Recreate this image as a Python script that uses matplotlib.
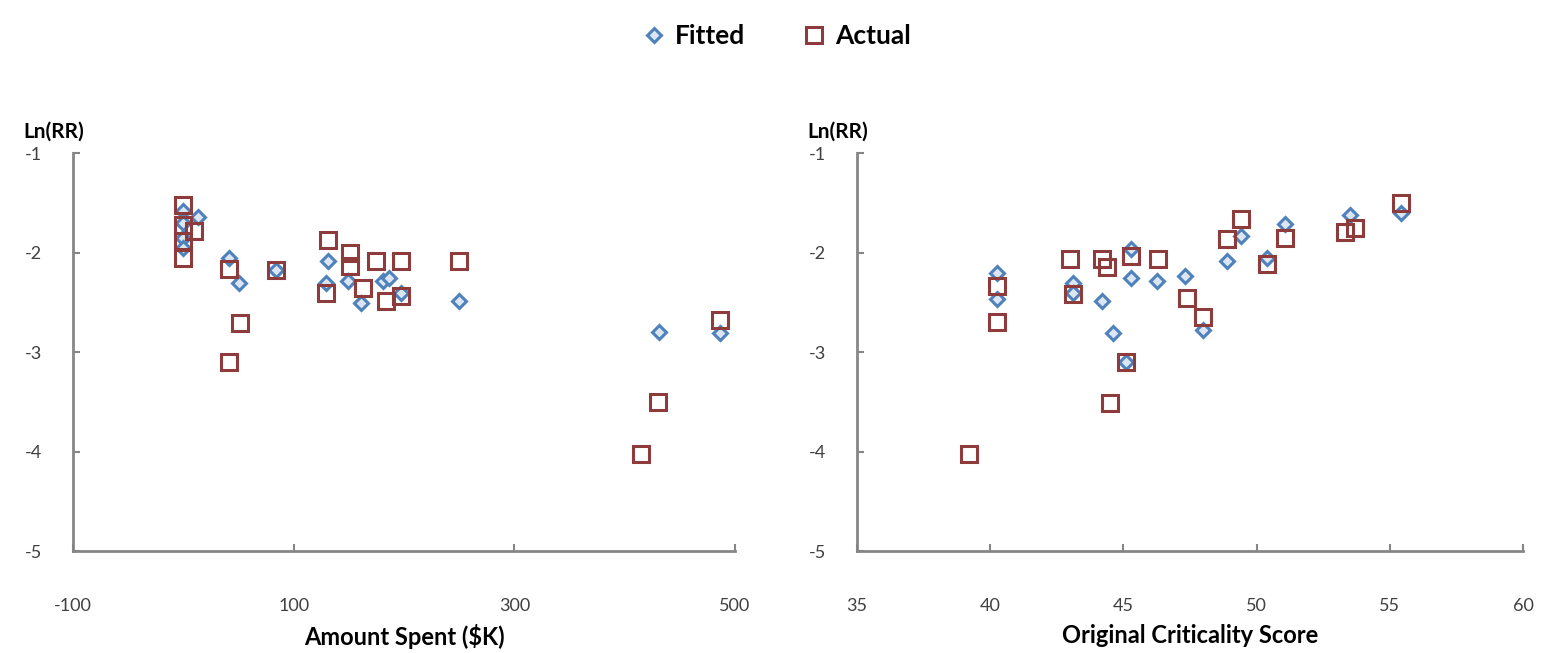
# Ln(RR) vs amount spent and criticality score - fitted vs actual

import matplotlib
matplotlib.use("Agg")
import matplotlib.pyplot as plt

plt.rcParams['font.family'] = ['Lato', 'DejaVu Sans']
plt.rcParams['axes.unicode_minus'] = False

# left panel: amount spent ($K)
spent_actual_x = [0, 0, 0, 0, 10, 41, 51, 41, 84, 131, 129, 151, 151, 163, 175, 197, 184, 197, 250, 486, 430, 415]
spent_actual_y = [-1.52, -1.72, -1.88, -2.05, -1.78, -2.16, -2.71, -3.10, -2.17, -1.87, -2.40, -2.00, -2.13,
                  -2.35, -2.08, -2.08, -2.48, -2.43, -2.08, -2.68, -3.50, -4.02]
spent_fitted_x = [0, 0, 0, 0, 13, 41, 50, 84, 131, 129, 149, 161, 181, 186, 197, 250, 431, 486]
spent_fitted_y = [-1.58, -1.70, -1.85, -1.95, -1.64, -2.05, -2.30, -2.17, -2.08, -2.30, -2.28, -2.50,
                  -2.28, -2.25, -2.40, -2.48, -2.80, -2.81]

# right panel: original criticality score
score_actual_x = [39.2, 40.25, 40.25, 43.0, 43.1, 44.2, 44.4, 45.1, 44.5, 45.3, 46.3, 47.4, 48.0, 48.9,
                  49.4, 50.4, 51.05, 53.3, 53.7, 55.4]
score_actual_y = [-4.02, -2.33, -2.70, -2.06, -2.41, -2.06, -2.14, -3.10, -3.51, -2.03, -2.06, -2.45,
                  -2.65, -1.86, -1.66, -2.11, -1.85, -1.79, -1.75, -1.50]
score_fitted_x = [40.25, 40.25, 43.1, 43.1, 44.2, 44.6, 45.1, 45.3, 45.3, 46.25, 47.3, 48.0, 48.9, 49.4,
                  50.4, 51.05, 53.5, 55.4]
score_fitted_y = [-2.20, -2.46, -2.30, -2.40, -2.48, -2.81, -3.10, -1.96, -2.25, -2.28, -2.23, -2.78,
                  -2.08, -1.83, -2.05, -1.71, -1.62, -1.60]

fitted_color = '#4F81BD'
actual_color = '#8E3B3B'
axis_color = '#868686'

fig = plt.figure(figsize=(15.54, 6.53), dpi=100)
ax1 = fig.add_axes([0.047, 0.156, 0.426, 0.609])
ax2 = fig.add_axes([0.5515, 0.156, 0.4286, 0.609])

panels = [
    (ax1, spent_fitted_x, spent_fitted_y, spent_actual_x, spent_actual_y,
     (-100, 500), [-100, 100, 300, 500], "Amount Spent ($K)"),
    (ax2, score_fitted_x, score_fitted_y, score_actual_x, score_actual_y,
     (35, 60), [35, 40, 45, 50, 55, 60], "Original Criticality Score"),
]

for ax, fx, fy, axx, ay, xlim, xticks, xlabel in panels:
    ax.plot(fx, fy, linestyle='none', marker='D', markersize=7, markerfacecolor='#DCE6F2',
            markeredgecolor=fitted_color, markeredgewidth=2.2, label='Fitted')
    ax.plot(axx, ay, linestyle='none', marker='s', markersize=12, markerfacecolor='none',
            markeredgecolor=actual_color, markeredgewidth=2.2, label='Actual')
    ax.set_xlim(*xlim)
    ax.set_ylim(-5, -1)
    ax.set_xticks(xticks)
    ax.set_yticks([-1, -2, -3, -4, -5])
    for s in ['top', 'right']:
        ax.spines[s].set_visible(False)
    for s in ['left', 'bottom']:
        ax.spines[s].set_color(axis_color)
        ax.spines[s].set_linewidth(2)
    ax.tick_params(axis='both', direction='in', length=5, width=1.5, color=axis_color,
                   labelsize=13, labelcolor='#404040')
    ax.tick_params(axis='x', pad=34)
    ax.tick_params(axis='y', pad=22)
    ax.set_xlabel(xlabel, fontsize=17, fontweight='bold', labelpad=7)
    ax.text(-0.075, 1.03, "Ln(RR)", transform=ax.transAxes, fontsize=15, fontweight='bold',
            ha='left', va='bottom')

handles, labels = ax1.get_legend_handles_labels()
fig.legend(handles, labels, loc='upper center', bbox_to_anchor=(0.5, 1.0), ncol=2, frameon=False,
           prop={'size': 19, 'weight': 'bold'}, handlelength=0.8, handletextpad=0.4,
           columnspacing=2.2)

plt.savefig("out.png", dpi=100)
